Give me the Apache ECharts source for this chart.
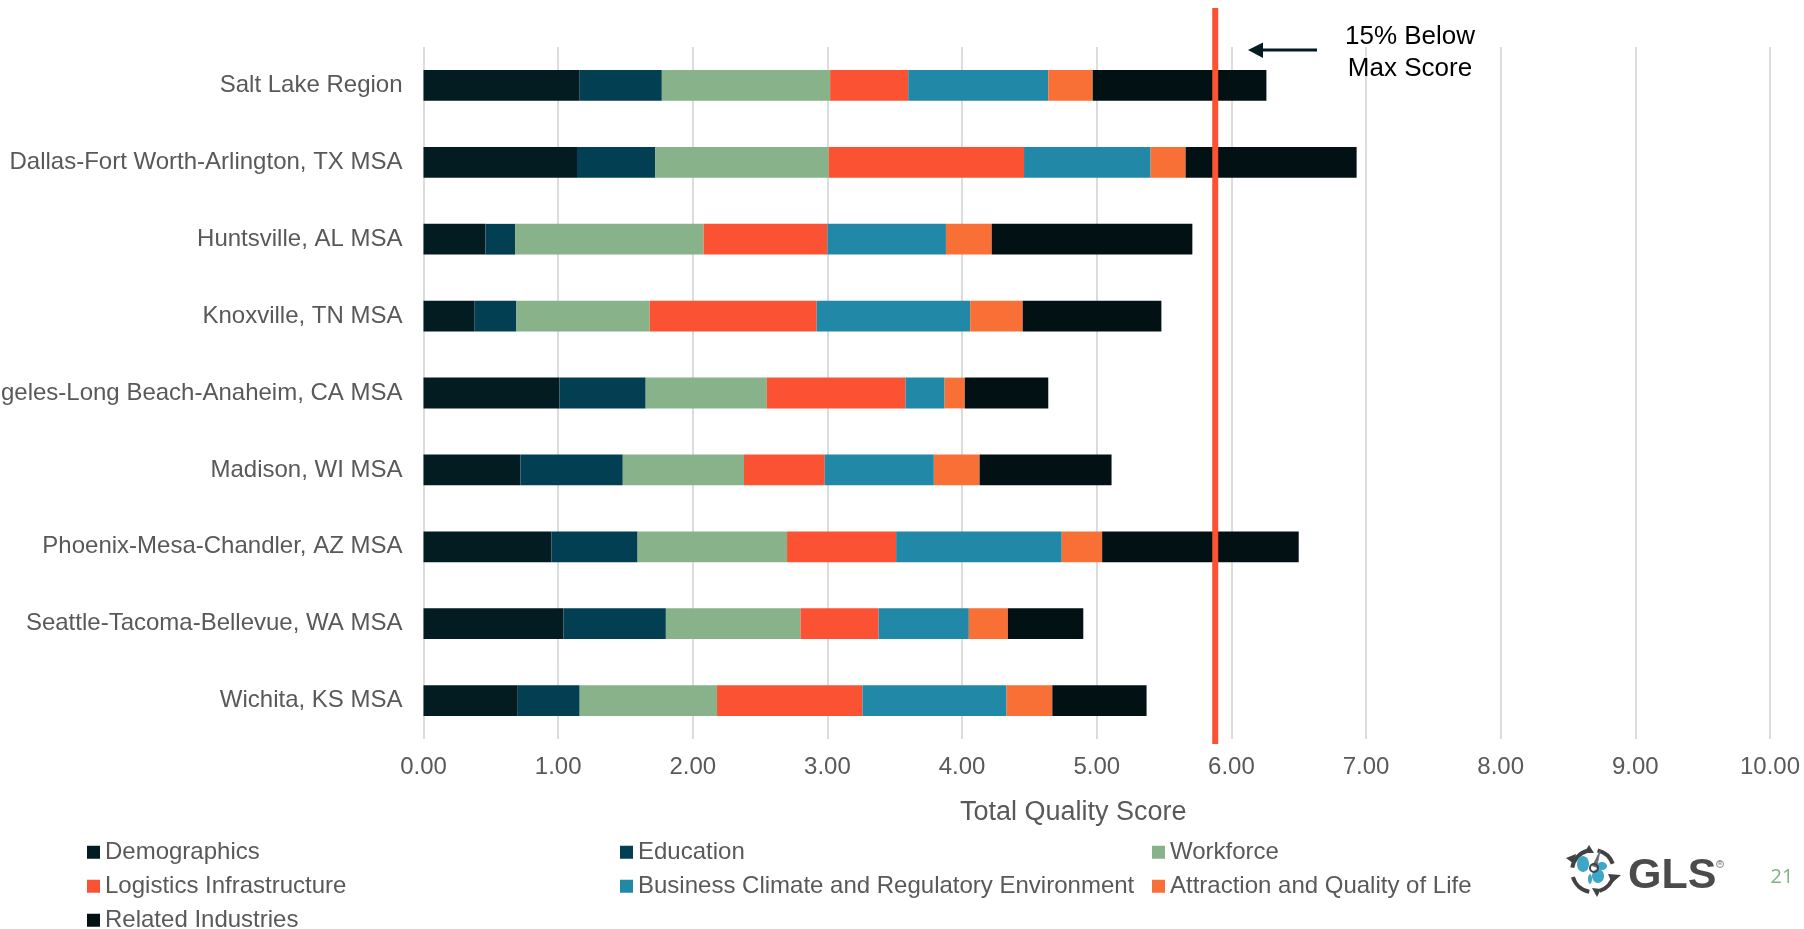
<!DOCTYPE html>
<html>
<head>
<meta charset="utf-8">
<title>Total Quality Score</title>
<style>
  html, body { margin: 0; padding: 0; background: #fff; overflow: hidden; }
  #chart { width: 1804px; height: 929px; }
</style>
<script src="https://cdn.jsdelivr.net/npm/echarts@6/dist/echarts.min.js"></script>
</head>
<body>
<div id="chart"></div>
<script>
// Regions, top to bottom
const regions = [
  'Salt Lake Region',
  'Dallas-Fort Worth-Arlington, TX MSA',
  'Huntsville, AL MSA',
  'Knoxville, TN MSA',
  'Los Angeles-Long Beach-Anaheim, CA MSA',
  'Madison, WI MSA',
  'Phoenix-Mesa-Chandler, AZ MSA',
  'Seattle-Tacoma-Bellevue, WA MSA',
  'Wichita, KS MSA'
];

// Weighted score per factor, one value per region
const demographics = [1.16, 1.14, 0.46, 0.38, 1.01, 0.72, 0.95, 1.04, 0.70];
const education    = [0.61, 0.58, 0.22, 0.31, 0.64, 0.76, 0.64, 0.76, 0.46];
const workforce    = [1.25, 1.29, 1.40, 0.99, 0.90, 0.90, 1.11, 1.00, 1.02];
const logistics    = [0.58, 1.45, 0.92, 1.24, 1.03, 0.60, 0.81, 0.58, 1.08];
const business     = [1.04, 0.94, 0.88, 1.14, 0.29, 0.81, 1.23, 0.67, 1.07];
const attraction   = [0.33, 0.26, 0.34, 0.39, 0.15, 0.34, 0.30, 0.29, 0.34];
const related      = [1.29, 1.27, 1.49, 1.03, 0.62, 0.98, 1.46, 0.56, 0.70];

// 15% below the top total score
const thresholdScore = 5.88;

const FONT = '"Liberation Sans", Arial, sans-serif';
const GREY = '#595959';
const RULE = '#dcdcdc';

const factors = [
  { name: 'Demographics', values: demographics, color: '#021c22' },
  { name: 'Education', values: education, color: '#033f52' },
  { name: 'Workforce', values: workforce, color: '#87b28a' },
  { name: 'Logistics Infrastructure', values: logistics, color: '#fa5233' },
  { name: 'Business Climate and Regulatory Environment', values: business, color: '#2188a8' },
  { name: 'Attraction and Quality of Life', values: attraction, color: '#f97036' },
  { name: 'Related Industries', values: related, color: '#021214' }
];

const legendColumn = (left, names) => ({
  left, top: 839, height: 120, padding: 0, orient: 'vertical',
  itemWidth: 13, itemHeight: 13, itemGap: 7.5,
  icon: 'rect', selectedMode: false, data: names,
  textStyle: { fontFamily: FONT, fontSize: 24, color: GREY, lineHeight: 26.5 }
});

const chart = echarts.init(document.getElementById('chart'), null, { renderer: 'canvas' });

// Company mark: segmented ring with a globe and needle
const MARK = '#404243';
const cx = 1593, cy = 871, ringR = 21;
const ringArc = (start, end) => ({
  type: 'arc',
  shape: { cx, cy, r: ringR, startAngle: start, endAngle: end },
  style: { stroke: MARK, lineWidth: 4, fill: null }
});
const tip = (points) => ({ type: 'polygon', shape: { points }, style: { fill: MARK } });
const globe = (x, y, rx, ry) => ({
  type: 'ellipse', shape: { cx: x, cy: y, rx, ry }, style: { fill: '#3ea6c6' }
});
const markShapes = [
  ringArc(-1.35, -0.35), ringArc(0.2, 1.25), ringArc(1.75, 2.85), ringArc(3.3, 4.45),
  tip([[1566, 858], [1576, 854], [1574, 864]]),
  tip([[1612, 883], [1621, 875], [1608, 874]]),
  tip([[1597, 897], [1592, 888], [1601, 889]]),
  tip([[1589, 845], [1584, 853], [1594, 853]]),
  globe(1583, 864, 6, 8), globe(1598, 876, 6, 7), globe(1602, 866, 5, 4), globe(1590, 879, 2, 5),
  { type: 'polygon', shape: { points: [[1601, 848], [1597, 868], [1592, 866]] }, style: { fill: '#6d6f70' } },
  { type: 'circle', shape: { cx: 1594, cy: 868, r: 4 }, style: { fill: 'rgba(0,0,0,0)', stroke: MARK, lineWidth: 2 } }
];

chart.setOption({
  animation: false,
  backgroundColor: '#ffffff',
  textStyle: { fontFamily: FONT },
  grid: [
    { left: 423.5, width: 1346.5, top: 47, height: 692, outerBoundsMode: 'none' },
    { left: 423.5, width: 1346.5, top: 8, height: 736, outerBoundsMode: 'none' }
  ],
  xAxis: [
    {
      type: 'value', gridIndex: 0, min: 0, max: 10, interval: 1,
      axisLine: { show: false }, axisTick: { show: false },
      splitLine: { show: true, lineStyle: { color: RULE, width: 2 } },
      axisLabel: {
        fontFamily: FONT, fontSize: 24, color: GREY, margin: 16,
        formatter: (v) => v.toFixed(2), showMinLabel: true, showMaxLabel: true
      },
      name: 'Total Quality Score', nameLocation: 'middle', nameGap: 60,
      nameTextStyle: { fontFamily: FONT, fontSize: 27, color: GREY, padding: [0, 47, 0, 0] }
    },
    { type: 'value', gridIndex: 1, min: 0, max: 10, show: false }
  ],
  yAxis: [
    {
      type: 'category', gridIndex: 0, data: regions, inverse: true,
      axisLine: { show: false }, axisTick: { show: false }, splitLine: { show: false },
      axisLabel: { fontFamily: FONT, fontSize: 24, color: GREY, margin: 21, interval: 0, padding: [2, 0, 0, 0] }
    },
    { type: 'value', gridIndex: 1, min: 0, max: 1, show: false }
  ],
  legend: [
    legendColumn(87, ['Demographics', 'Logistics Infrastructure', 'Related Industries']),
    legendColumn(620, ['Education', 'Business Climate and Regulatory Environment']),
    legendColumn(1152, ['Workforce', 'Attraction and Quality of Life'])
  ],
  series: [
    ...factors.map((f) => ({
      name: f.name, type: 'bar', stack: 'total', xAxisIndex: 0, yAxisIndex: 0,
      barWidth: '40%', data: f.values, itemStyle: { color: f.color }, silent: true
    })),
    {
      name: '15% Below Max Score', type: 'line', xAxisIndex: 1, yAxisIndex: 1,
      data: [[thresholdScore, 0], [thresholdScore, 1]], symbol: 'none', z: 10, silent: true,
      lineStyle: { color: '#fa5233', width: 6, cap: 'butt' }
    }
  ],
  graphic: [
    // Threshold callout
    { type: 'rect', shape: { x: 1262, y: 48.5, width: 55, height: 3 }, style: { fill: '#021c22' }, z: 20 },
    { type: 'polygon', shape: { points: [[1248, 50], [1263, 42.5], [1263, 58]] }, style: { fill: '#021c22' }, z: 20 },
    {
      type: 'text', z: 20, x: 1410, y: 37,
      style: { text: '15% Below', font: '26px ' + FONT, fill: '#000', align: 'center', verticalAlign: 'middle' }
    },
    {
      type: 'text', z: 20, x: 1410, y: 69,
      style: { text: 'Max Score', font: '26px ' + FONT, fill: '#000', align: 'center', verticalAlign: 'middle' }
    },
    // Company mark and page number
    ...markShapes,
    {
      type: 'text', x: 1628, y: 876,
      style: { text: 'GLS', font: 'bold 43px ' + FONT, fill: '#4a4b4c', align: 'left', verticalAlign: 'middle' }
    },
    {
      type: 'circle', shape: { cx: 1720, cy: 864, r: 3.5 },
      style: { fill: 'rgba(0,0,0,0)', stroke: '#8a8a8a', lineWidth: 1 }
    },
    {
      type: 'text', x: 1720, y: 864,
      style: { text: 'R', font: 'bold 5px ' + FONT, fill: '#8a8a8a', align: 'center', verticalAlign: 'middle' }
    },
    {
      type: 'text', x: 1782, y: 877,
      style: { text: '21', font: '20px "Open Sans", ' + FONT, fill: '#7fb382', align: 'center', verticalAlign: 'middle' }
    }
  ]
});
</script>
</body>
</html>
